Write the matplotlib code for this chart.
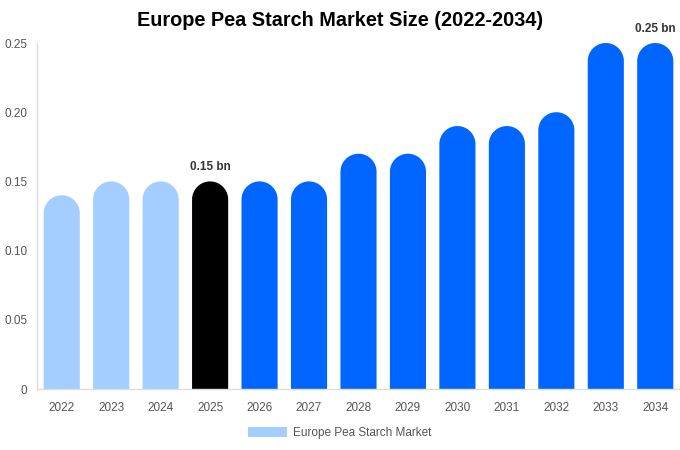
import matplotlib
matplotlib.use('Agg')
import matplotlib.pyplot as plt
import numpy as np
from matplotlib.patches import PathPatch, Patch
from matplotlib.path import Path

plt.rcParams['font.family'] = ['Liberation Sans', 'DejaVu Sans']

# data
years = ['2022', '2023', '2024', '2025', '2026', '2027', '2028',
         '2029', '2030', '2031', '2032', '2033', '2034']
values = [0.14, 0.15, 0.15, 0.15, 0.15, 0.15, 0.17,
          0.17, 0.19, 0.19, 0.20, 0.25, 0.25]
colors = ['#A3CEFF'] * 3 + ['#000000'] + ['#0066FF'] * 9
labelled = {'2025': '0.15 bn', '2034': '0.25 bn'}
yticks = [0, 0.05, 0.10, 0.15, 0.20, 0.25]
ytick_labels = ['0', '0.05', '0.10', '0.15', '0.20', '0.25']

W, H = 680, 450
fig = plt.figure(figsize=(W / 100, H / 100), dpi=100)
ax = fig.add_axes([37 / W, 61 / H, (680 - 37) / W, (389 - 43) / H])

ax.set_xlim(-0.5, len(years) - 0.5)
ax.set_ylim(0, 0.25)

bw = 0.73
# radius of the rounded top in y data units (half the bar width in pixels)
px_per_x = (680 - 37) / len(years)
px_per_y = (389 - 43) / 0.25
ry = (bw * px_per_x / 2) / px_per_y


def rounded_bar(xc, v):
    t = np.linspace(0, np.pi, 40)
    arc_x = xc + (bw / 2) * np.cos(t)
    arc_y = (v - ry) + ry * np.sin(t)
    verts = [(xc + bw / 2, 0)] + list(zip(arc_x, arc_y)) + [(xc - bw / 2, 0), (xc + bw / 2, 0)]
    codes = [Path.MOVETO] + [Path.LINETO] * (len(verts) - 2) + [Path.CLOSEPOLY]
    return Path(verts, codes)


x = list(range(len(years)))
for xi, v, c in zip(x, values, colors):
    ax.add_patch(PathPatch(rounded_bar(xi, v), facecolor=c, edgecolor='none'))

for xi, yr, v in zip(x, years, values):
    if yr in labelled:
        ax.annotate(labelled[yr], (xi, v), xytext=(0, 6), textcoords='offset points',
                    ha='center', va='bottom', fontsize=8.5, fontweight='bold', color='#333333')

ax.set_xticks(x)
ax.set_xticklabels(years)
ax.set_yticks(yticks)
ax.set_yticklabels(ytick_labels)
ax.tick_params(axis='both', length=0, labelsize=8.5, labelcolor='#555555')
ax.tick_params(axis='x', pad=9.5)
ax.tick_params(axis='y', pad=7)

for s in ['top', 'right']:
    ax.spines[s].set_visible(False)
for s in ['left', 'bottom']:
    ax.spines[s].set_color('#DDDDDD')
    ax.spines[s].set_linewidth(1)

fig.suptitle('Europe Pea Starch Market Size (2022-2034)', x=0.5, y=1 - 21 / H,
             va='center', fontsize=14.3, fontweight='bold', color='#000000')

fig.legend(handles=[Patch(facecolor='#A3CEFF', label='Europe Pea Starch Market')],
           loc='center', bbox_to_anchor=(0.5, 1 - 433 / H), frameon=False,
           fontsize=8.5, handlelength=3.3, handleheight=1.0, handletextpad=0.5,
           labelcolor='#555555')

fig.savefig('out.png', dpi=100)
